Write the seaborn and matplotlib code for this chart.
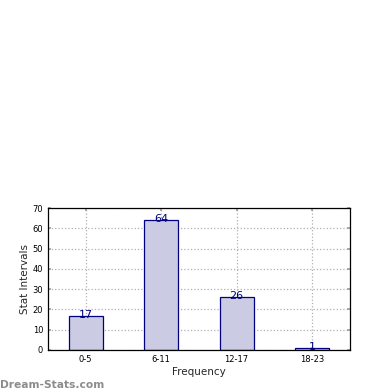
import pandas as pd
import matplotlib
matplotlib.use('Agg')
import matplotlib.pyplot as plt
import seaborn as sns

# Data
intervals = ['0-5', '6-11', '12-17', '18-23']
counts = [17, 64, 26, 1]

df = pd.DataFrame({'interval': intervals, 'count': counts})

sns.set_theme(style="white")
plt.rcParams['font.family'] = ['DejaVu Sans']

fig = plt.figure(figsize=(3.9, 3.9), dpi=100)
ax = fig.add_axes([0.123, 0.1026, 0.774, 0.364])

sns.barplot(x='interval', y='count', data=df, ax=ax, color='#cbcbe3',
            edgecolor='#000080', linewidth=0.9, width=0.45, saturation=1)

# value labels sitting on the bar tops
for i, v in enumerate(counts):
    ax.annotate(str(v), (i, v), xytext=(0, -3), textcoords='offset points',
                ha='center', va='bottom', color='#000080', fontsize=8)

ax.set_xlim(-0.5, 3.5)
ax.set_ylim(0, 70)
ax.set_yticks(range(0, 71, 10))
ax.grid(True, linestyle=':', color='#b0b0b0', linewidth=0.9)
ax.set_axisbelow(True)
for s in ax.spines.values():
    s.set_color('black')
    s.set_linewidth(0.9)
ax.tick_params(axis='both', direction='in', length=2.5, labelsize=6,
               color='#a0a0a0', labelcolor='black',
               top=True, right=True, bottom=True, left=True)
ax.set_xlabel('Frequency', fontsize=7.5, labelpad=2)
ax.set_ylabel('Stat Intervals', fontsize=7.5, labelpad=2)

fig.text(0.0, 0.0, 'Dream-Stats.com', color='#8c8c8c', fontsize=7.7,
         fontweight='bold', ha='left', va='bottom')

fig.savefig('out.png', dpi=100)
